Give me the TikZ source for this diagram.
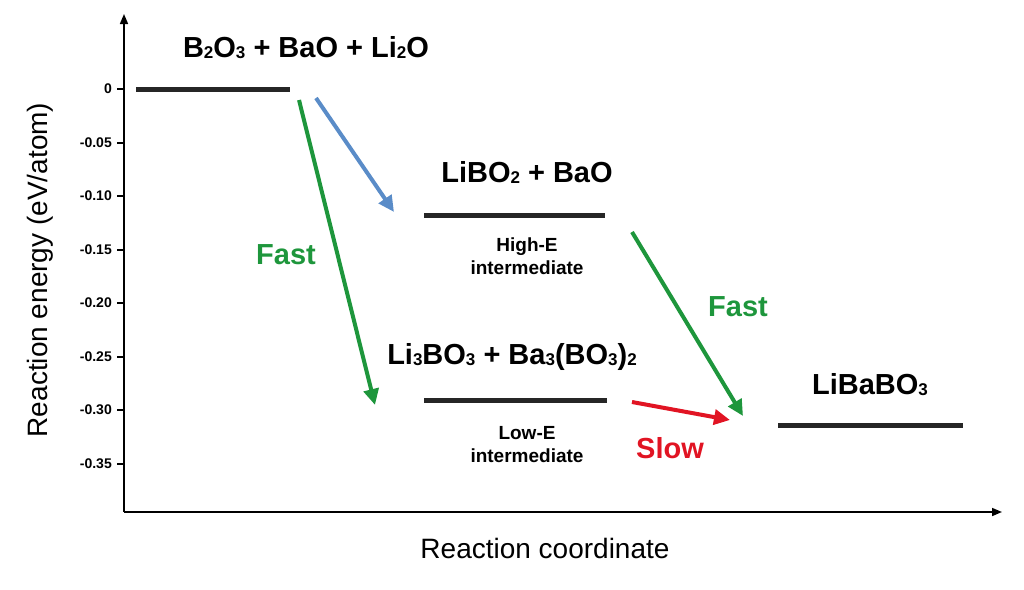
\documentclass[tikz,border=0pt]{standalone}
\usepackage{fontspec}
\setmainfont{Liberation Sans}
\usetikzlibrary{arrows.meta}
\newcommand{\lsub}[1]{\raisebox{-1pt}{\fontsize{17}{18}\selectfont #1}}
\begin{document}
\begin{tikzpicture}[x=1pt,y=-1pt,
  lvl/.style={line width=5pt,black!85},
  big/.style={font=\fontsize{29}{32}\selectfont\bfseries,inner sep=0},
  sub/.style={font=\fontsize{19}{23}\selectfont\bfseries,align=center,inner sep=0},
  tick/.style={font=\fontsize{14}{16}\selectfont\bfseries,anchor=east,inner sep=0},
  arr/.style={line width=4pt,-{Triangle[length=16pt,width=15pt]}}]
\useasboundingbox (0,0) rectangle (1024,589);
\definecolor{gr}{RGB}{30,150,60}\definecolor{bl}{RGB}{90,140,200}\definecolor{rd}{RGB}{225,20,35}
% axes
\coordinate (o) at (124,512);
\coordinate (yt) at (124,14);
\coordinate (xt) at (1002,512);
\draw[line width=1.6pt,-{Triangle[length=10pt,width=8pt]}] (o) -- (yt);
\draw[line width=1.6pt,-{Triangle[length=10pt,width=8pt]}] (o) -- (xt);
\foreach \v/\yy in {0/89,-0.05/143,-0.10/196,-0.15/250,-0.20/303,-0.25/357,-0.30/410,-0.35/464}{
  \draw[line width=1.4pt] (117,\yy) -- (124,\yy);
  \node[tick] at (112,\yy) {\v};}
\node[rotate=90,font=\fontsize{28}{30}\selectfont] (yl) at (40,270) {Reaction energy (eV/atom)};
\node[font=\fontsize{28}{30}\selectfont] (xl) at (545,548) {Reaction coordinate};
% levels
\draw[lvl] (136,89) -- (290,89);
\draw[lvl] (424,215) -- (605,215);
\draw[lvl] (424,400) -- (607,400);
\draw[lvl] (778,425) -- (963,425);
% labels
\node[big] (r) at (306,48) {B\lsub{2}O\lsub{3} + BaO + Li\lsub{2}O};
\node[big] (m1) at (527,172) {LiBO\lsub{2} + BaO};
\node[sub] (h) at (527,256) {High-E\\intermediate};
\node[big] (m2) at (512,357) {Li\lsub{3}BO\lsub{3} + Ba\lsub{3}(BO\lsub{3})\lsub{2}};
\node[sub] (l) at (527,445) {Low-E\\intermediate};
\node[big] (p) at (870,385) {LiBaBO\lsub{3}};
% arrows
\coordinate (a1) at (316,98); \coordinate (b1) at (394,212);
\coordinate (a2) at (299,100); \coordinate (b2) at (375,405);
\coordinate (a3) at (632,232); \coordinate (b3) at (743,416);
\coordinate (a4) at (632,402); \coordinate (b4) at (730,420);
\draw[arr,bl] (a1) -- (b1);
\draw[arr,gr] (a2) -- (b2);
\draw[arr,gr] (a3) -- (b3);
\draw[arr,rd] (a4) -- (b4);
\node[big,text=gr] (f1) at (286,255) {Fast};
\node[big,text=gr] (f2) at (738,307) {Fast};
\node[big,text=rd] (s) at (670,448) {Slow};
\end{tikzpicture}
\end{document}
